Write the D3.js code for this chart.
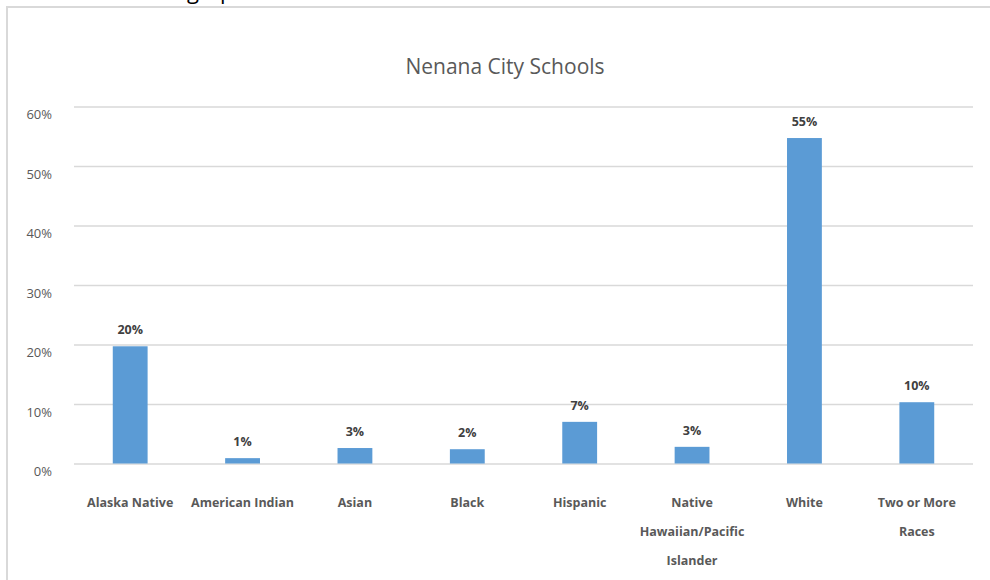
<!DOCTYPE html>
<html>
<head>
<meta charset="utf-8">
<script src="https://cdn.jsdelivr.net/npm/d3@7"></script>
<style>
  body { margin: 0; background: #fff; }
  svg { display: block; font-family: "Open Sans", sans-serif; }
</style>
</head>
<body>
<script>
// chart data
var categories = ["Alaska Native", "American Indian", "Asian", "Black", "Hispanic",
                  "Native\nHawaiian/Pacific\nIslander", "White", "Two or More\nRaces"];
var values = [0.197, 0.009, 0.026, 0.024, 0.070, 0.028, 0.547, 0.103];
var valueLabels = ["20%", "1%", "3%", "2%", "7%", "3%", "55%", "10%"];
var yTicks = [0, 0.1, 0.2, 0.3, 0.4, 0.5, 0.6];

var W = 990, H = 580;
var svg = d3.select("body").append("svg")
    .attr("width", W)
    .attr("height", H);

// cut-off heading above the frame
svg.append("text")
    .attr("x", 125).attr("y", -1)
    .attr("font-size", 22).attr("fill", "#000")
    .text("Demographics");

// chart frame
svg.append("rect")
    .attr("x", 7).attr("y", 7)
    .attr("width", 990).attr("height", 600)
    .attr("fill", "none")
    .attr("stroke", "#d9d9d9")
    .attr("stroke-width", 2);

var x = d3.scaleBand()
    .domain(categories)
    .range([74, 973])
    .paddingInner(0.69)
    .paddingOuter(0.345);

var y = d3.scaleLinear()
    .domain([0, 0.6])
    .range([463.5, 106.5]);

// gridlines
svg.append("g")
    .attr("transform", "translate(74,0)")
    .call(d3.axisLeft(y).tickValues(yTicks).tickSize(-(973 - 74)).tickFormat(""))
    .call(function(g) {
        g.select(".domain").remove();
        g.selectAll("line").attr("stroke", "#d9d9d9").attr("stroke-width", 1.3);
    });

// y tick labels
svg.append("g")
    .attr("transform", "translate(52,0)")
    .call(d3.axisLeft(y).tickValues(yTicks).tickSize(0).tickPadding(0).tickFormat(d3.format(".0%")))
    .call(function(g) {
        g.select(".domain").remove();
        g.selectAll("text")
            .attr("font-family", "Open Sans, sans-serif")
            .attr("font-size", 13)
            .attr("fill", "#595959")
            .attr("dy", "0.95em");
    });

// bars
svg.selectAll("rect.bar")
    .data(values)
    .enter().append("rect")
        .attr("class", "bar")
        .attr("x", function(d, i) { return x(categories[i]); })
        .attr("width", x.bandwidth())
        .attr("y", function(d) { return y(d); })
        .attr("height", function(d) { return y(0) - y(d); })
        .attr("fill", "#5b9bd5");

// value labels
svg.selectAll("text.val")
    .data(values)
    .enter().append("text")
        .attr("class", "val")
        .attr("x", function(d, i) { return x(categories[i]) + x.bandwidth() / 2; })
        .attr("y", function(d) { return y(d) - 12; })
        .attr("text-anchor", "middle")
        .attr("font-size", 12.5)
        .attr("font-weight", "bold")
        .attr("fill", "#404040")
        .text(function(d, i) { return valueLabels[i]; });

// category labels
var xAxis = svg.append("g");
categories.forEach(function(c) {
    var t = xAxis.append("text")
        .attr("x", x(c) + x.bandwidth() / 2)
        .attr("y", 507)
        .attr("text-anchor", "middle")
        .attr("font-size", 12.5)
        .attr("font-weight", "bold")
        .attr("fill", "#595959");
    c.split("\n").forEach(function(line, k) {
        t.append("tspan")
            .attr("x", x(c) + x.bandwidth() / 2)
            .attr("y", 507 + k * 29)
            .text(line);
    });
});

// title
svg.append("text")
    .attr("x", 505).attr("y", 74)
    .attr("text-anchor", "middle")
    .attr("font-size", 21)
    .attr("fill", "#595959")
    .text("Nenana City Schools");
</script>
</body>
</html>
